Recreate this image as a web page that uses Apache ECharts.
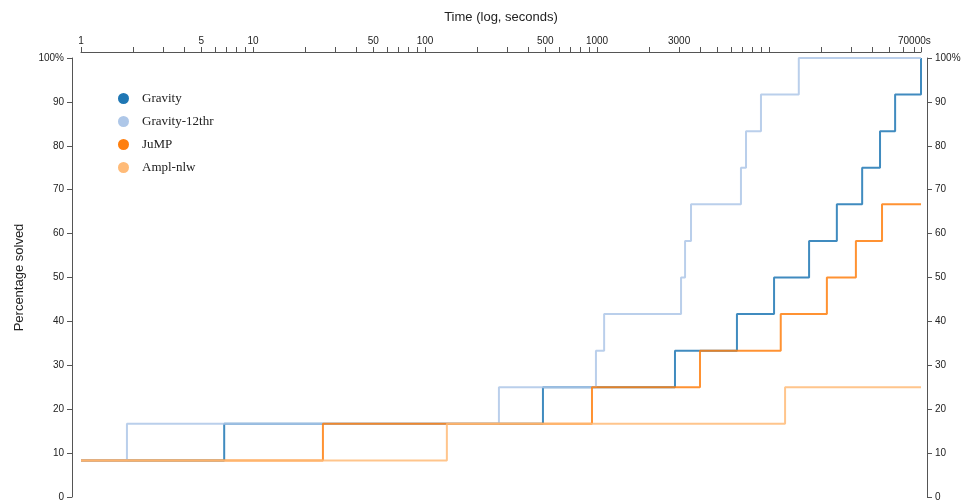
<!DOCTYPE html>
<html><head><meta charset="utf-8">
<script src="https://cdn.jsdelivr.net/npm/echarts@6/dist/echarts.min.js"></script>
<style>html,body{margin:0;padding:0;background:#fff}#c{width:961px;height:502px}</style>
</head><body><div id="c"></div>
<script>
const seriesNames = ['Gravity', 'Gravity-12thr', 'JuMP', 'Ampl-nlw'];
const seriesColors = ['#1f77b4', '#aec7e8', '#ff7f0e', '#ffbb78'];

const gravityTime = [1, 6.8, 485, 2840, 6510, 10700, 17100, 24800, 34800, 44200, 54100, 76500];
const gravityPct  = [8.33, 16.67, 25, 33.33, 41.67, 50, 58.33, 66.67, 75, 83.33, 91.67, 100];

const gravity12Time = [1, 1.85, 269, 986, 1100, 3080, 3250, 3520, 6870, 7350, 8980, 14900, 76500];
const gravity12Pct  = [8.33, 16.67, 25, 33.33, 41.67, 50, 58.33, 66.67, 75, 83.33, 91.67, 100, 100];

const jumpTime = [1, 25.5, 935, 3970, 11700, 21700, 32000, 45400, 76500];
const jumpPct  = [8.33, 16.67, 25, 33.33, 41.67, 50, 58.33, 66.67, 66.67];

const amplTime = [1, 134, 12400, 76500];
const amplPct  = [8.33, 16.67, 25, 25];

const xMin = 1, xMax = 76500;
const xTickValues = [1,2,3,4,5,6,7,8,9,10,20,30,40,50,60,70,80,90,100,200,300,400,500,600,700,800,900,
  1000,2000,3000,4000,5000,6000,7000,8000,9000,10000,20000,30000,40000,50000,60000,70000,76500];
const xLabelValues = [1, 5, 10, 50, 100, 500, 1000, 3000, 70000];

const times = [gravityTime, gravity12Time, jumpTime, amplTime];
const pcts = [gravityPct, gravity12Pct, jumpPct, amplPct];

const axisColor = '#555';
const textColor = '#222';
const sans = '"Liberation Sans", Arial, sans-serif';

const chart = echarts.init(document.getElementById('c'), null, {renderer: 'canvas'});

const yAxisBase = (pos, offset) => ({
  type: 'value', position: pos, offset: offset, min: 0, max: 100, interval: 10,
  splitLine: {show: false},
  axisLine: {show: true, onZero: false, lineStyle: {color: axisColor, width: 1}},
  axisTick: {show: true, length: 5, lineStyle: {color: axisColor}},
  axisLabel: {show: true, color: textColor, fontSize: 10, fontFamily: sans, margin: 8,
    formatter: v => v === 100 ? '100%' : String(v)}
});

const option = {
  animation: false,
  backgroundColor: '#fff',
  color: seriesColors,
  grid: {left: 81, right: 40, top: 58, bottom: 5, containLabel: false, outerBoundsMode: 'none'},
  legend: {
    show: true, orient: 'vertical', left: 113, top: 87,
    icon: 'circle', itemWidth: 11, itemHeight: 11, itemGap: 10,
    data: seriesNames,
    textStyle: {fontFamily: '"Liberation Serif", "Times New Roman", serif', fontSize: 13, color: '#222', padding: [0,0,0,8]}
  },
  xAxis: {
    type: 'log', logBase: 10, position: 'top', offset: 6, min: xMin, max: xMax,
    name: 'Time (log, seconds)', nameLocation: 'middle', nameGap: 28,
    nameTextStyle: {fontFamily: sans, fontSize: 13, color: textColor},
    splitLine: {show: false},
    axisLine: {show: true, onZero: false, lineStyle: {color: axisColor, width: 1}},
    axisTick: {show: true, length: 5, customValues: xTickValues, lineStyle: {color: axisColor}},
    minorTick: {show: false},
    axisLabel: {show: true, customValues: xLabelValues, color: textColor, fontSize: 10, fontFamily: sans, margin: 6,
      formatter: v => (Math.abs(v - 70000) < 1 ? '70000s' : String(Math.round(v)))}
  },
  yAxis: [
    Object.assign(yAxisBase('left', 9), {
      name: 'Percentage solved', nameLocation: 'middle', nameGap: 46,
      nameTextStyle: {fontFamily: sans, fontSize: 13, color: textColor}
    }),
    yAxisBase('right', 6)
  ],
  series: seriesNames.map((name, i) => ({
    name: name, type: 'line', step: 'end', yAxisIndex: 0,
    showSymbol: false, symbol: 'none',
    lineStyle: {width: 2, color: seriesColors[i], opacity: 0.85},
    itemStyle: {color: seriesColors[i]},
    data: times[i].map((t, j) => [t, pcts[i][j]])
  }))
};
chart.setOption(option);
</script>
</body></html>
